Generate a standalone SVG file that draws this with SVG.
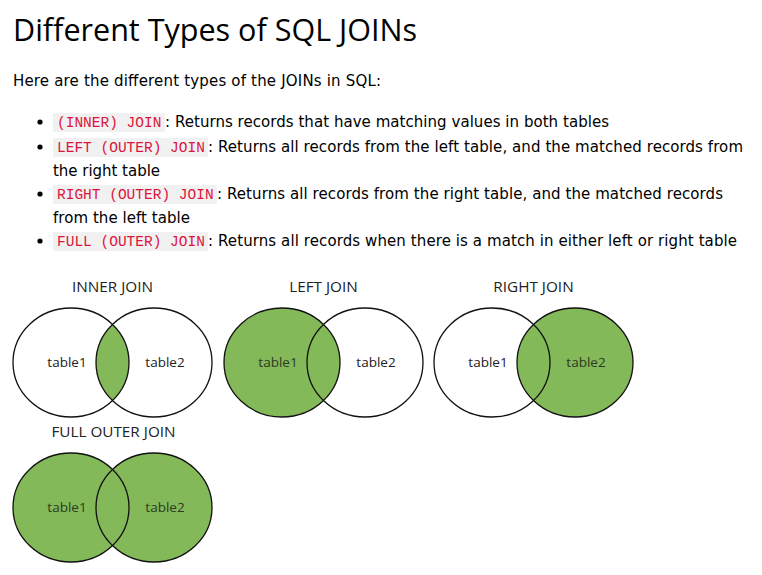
<svg xmlns="http://www.w3.org/2000/svg" width="762" height="575" viewBox="0 0 762 575">
<style>
.title{font-family:"Open Sans","Noto Sans",sans-serif;font-size:30.5px;fill:#000}
.p{font-family:"DejaVu Sans","Noto Sans",sans-serif;font-size:15px;fill:#000}
.code{font-family:"Liberation Mono","DejaVu Sans Mono",monospace;font-size:14.5px;fill:#dc143c}
.cbg{fill:#f1f1f1}
.cap{font-family:"Open Sans","Noto Sans",sans-serif;font-size:15.3px;fill:#222;text-anchor:middle}
.lbl{font-family:"Open Sans","Noto Sans",sans-serif;font-size:13.5px;fill:#222;text-anchor:middle}
.lblg{font-family:"Open Sans","Noto Sans",sans-serif;font-size:13.5px;fill:#2c3a22;text-anchor:middle}
.ring{fill:none;stroke:#111;stroke-width:1.3}
.g{fill:#83b958}
</style>
<defs>
<clipPath id="clipL"><ellipse cx="71" cy="362.5" rx="58" ry="54.5"/></clipPath>
</defs>
<rect width="762" height="575" fill="#fff"/>
<g id="header">
<text class="title" x="13" y="41" textLength="404" lengthAdjust="spacingAndGlyphs">Different Types of SQL JOINs</text>
<text class="p" x="13" y="86" textLength="368">Here are the different types of the JOINs in SQL:</text>
</g>
<g id="list">
<circle cx="40" cy="122" r="2.6"/>
<rect class="cbg" x="53" y="113" width="112" height="19"/>
<text class="code" x="57" y="127">(INNER) JOIN</text>
<text class="p" x="165" y="127" textLength="444">: Returns records that have matching values in both tables</text>
<circle cx="40" cy="147" r="2.6"/>
<rect class="cbg" x="53" y="138" width="155" height="19"/>
<text class="code" x="57" y="152">LEFT (OUTER) JOIN</text>
<text class="p" x="208" y="152" textLength="535">: Returns all records from the left table, and the matched records from</text>
<text class="p" x="53" y="176" textLength="107">the right table</text>
<circle cx="40" cy="194" r="2.6"/>
<rect class="cbg" x="53" y="185" width="164" height="19"/>
<text class="code" x="57" y="199">RIGHT (OUTER) JOIN</text>
<text class="p" x="217" y="199" textLength="506">: Returns all records from the right table, and the matched records</text>
<text class="p" x="53" y="223" textLength="137">from the left table</text>
<circle cx="40" cy="241" r="2.6"/>
<rect class="cbg" x="53" y="232" width="155" height="19"/>
<text class="code" x="57" y="246">FULL (OUTER) JOIN</text>
<text class="p" x="208" y="246" textLength="529">: Returns all records when there is a match in either left or right table</text>
</g>
<g id="inner-join">
<text class="cap" x="112.5" y="292">INNER JOIN</text>
<ellipse class="g" cx="154" cy="362.5" rx="58" ry="54.5" clip-path="url(#clipL)"/>
<ellipse class="ring" cx="71" cy="362.5" rx="58" ry="54.5"/>
<ellipse class="ring" cx="154" cy="362.5" rx="58" ry="54.5"/>
<text class="lbl" x="67" y="367">table1</text>
<text class="lbl" x="165" y="367">table2</text>
</g>
<g id="left-join" transform="translate(211,0)">
<text class="cap" x="112.5" y="292">LEFT JOIN</text>
<ellipse class="g" cx="71" cy="362.5" rx="58" ry="54.5"/>
<ellipse class="ring" cx="71" cy="362.5" rx="58" ry="54.5"/>
<ellipse class="ring" cx="154" cy="362.5" rx="58" ry="54.5"/>
<text class="lblg" x="67" y="367">table1</text>
<text class="lbl" x="165" y="367">table2</text>
</g>
<g id="right-join" transform="translate(421,0)">
<text class="cap" x="112.5" y="292">RIGHT JOIN</text>
<ellipse class="g" cx="154" cy="362.5" rx="58" ry="54.5"/>
<ellipse class="ring" cx="71" cy="362.5" rx="58" ry="54.5"/>
<ellipse class="ring" cx="154" cy="362.5" rx="58" ry="54.5"/>
<text class="lbl" x="67" y="367">table1</text>
<text class="lblg" x="165" y="367">table2</text>
</g>
<g id="full-outer-join" transform="translate(0,145)">
<text class="cap" x="113.5" y="292">FULL OUTER JOIN</text>
<ellipse class="g" cx="71" cy="362.5" rx="58" ry="54.5"/>
<ellipse class="g" cx="154" cy="362.5" rx="58" ry="54.5"/>
<ellipse class="ring" cx="71" cy="362.5" rx="58" ry="54.5"/>
<ellipse class="ring" cx="154" cy="362.5" rx="58" ry="54.5"/>
<text class="lblg" x="67" y="367">table1</text>
<text class="lblg" x="165" y="367">table2</text>
</g>
</svg>
